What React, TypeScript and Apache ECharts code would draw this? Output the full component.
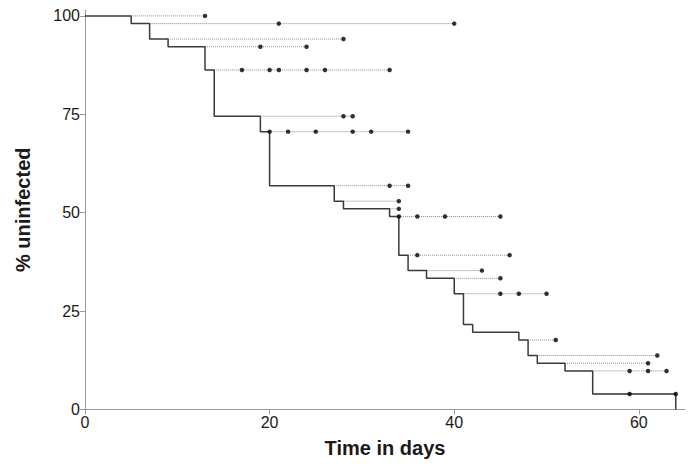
import React, { useEffect, useRef } from 'react';
import * as echarts from 'echarts';

// Kaplan–Meier step curve: day of each drop and % uninfected after it
const stepDays = [0, 5, 7, 9, 13, 14, 19, 20, 27, 28, 33, 34, 35, 37, 40, 41, 42, 47, 48, 49, 52, 55, 64];
const survival = [100, 98.04, 94.12, 92.16, 86.27, 74.51, 70.59, 56.86, 52.94, 50.98, 49.02, 39.22, 35.29, 33.33, 29.41, 21.57, 19.61, 17.65, 13.73, 11.76, 9.8, 3.92, 0];

// Censored observations: level, day the dotted guide starts, censoring days
const censorLevels = [100, 98.04, 94.12, 92.16, 86.27, 74.51, 70.59, 56.86, 52.94, 50.98, 49.02, 39.22, 35.29, 33.33, 29.41, 17.65, 13.73, 11.76, 9.8, 3.92];
const censorStart = [5, 7, 9, 13, 14, 19, 20, 27, 28, 33, 34, 35, 37, 40, 41, 48, 49, 52, 55, 55];
const censorDays = [
  [13],
  [21, 40],
  [28],
  [19, 24],
  [17, 20, 21, 24, 26, 33],
  [28, 29],
  [20, 22, 25, 29, 31, 35],
  [33, 35],
  [34],
  [34],
  [34, 36, 39, 45],
  [36, 46],
  [43],
  [45],
  [45, 47, 50],
  [51],
  [62],
  [61],
  [59, 61, 63],
  [59, 64],
];

const xTicks = [0, 20, 40, 60];
const yTicks = [0, 25, 50, 75, 100];

const FONT = '"Liberation Sans", Arial, sans-serif';
const AXIS_COLOR = '#9a9a9a';
const TEXT_COLOR = '#1a1a1a';

export default function App() {
  const ref = useRef<HTMLDivElement>(null);

  useEffect(() => {
    document.body.style.margin = '0';
    const chart = echarts.init(ref.current!, null, { renderer: 'svg' });

    const curve = stepDays.map((d, i) => [d, survival[i]]);

    const dottedSeries = censorLevels.map((lv, i) => ({
      type: 'line',
      data: [
        [censorStart[i], lv],
        [Math.max(...censorDays[i]), lv],
      ],
      symbol: 'none',
      silent: true,
      z: 1,
      lineStyle: { type: 'dotted', color: '#8a8a8a', width: 1 },
    }));

    const dots: number[][] = [];
    censorLevels.forEach((lv, i) => {
      censorDays[i].forEach((d) => dots.push([d, lv]));
    });

    chart.setOption({
      animation: false,
      backgroundColor: '#ffffff',
      textStyle: { fontFamily: FONT },
      grid: { left: 85, right: 14, top: 10, bottom: 56.5, containLabel: false },
      xAxis: {
        type: 'value',
        min: 0,
        max: 65,
        interval: 20,
        name: 'Time in days',
        nameLocation: 'middle',
        nameGap: 28,
        nameTextStyle: { fontFamily: FONT, fontSize: 20, fontWeight: 'bold', color: TEXT_COLOR },
        axisLine: { show: true, onZero: false, lineStyle: { color: AXIS_COLOR, width: 1 } },
        axisTick: { show: true, inside: false, length: 5, customValues: xTicks, lineStyle: { color: AXIS_COLOR } },
        axisLabel: { customValues: xTicks, margin: 5, fontSize: 16, fontFamily: FONT, color: TEXT_COLOR },
        splitLine: { show: false },
      },
      yAxis: {
        type: 'value',
        min: 0,
        max: 101.5,
        interval: 25,
        name: '% uninfected',
        nameLocation: 'middle',
        nameRotate: 90,
        nameGap: 52,
        nameTextStyle: { fontFamily: FONT, fontSize: 20, fontWeight: 'bold', color: TEXT_COLOR },
        axisLine: { show: true, onZero: false, lineStyle: { color: AXIS_COLOR, width: 1 } },
        axisTick: { show: true, inside: false, length: 5, customValues: yTicks, lineStyle: { color: AXIS_COLOR } },
        axisLabel: { customValues: yTicks, margin: 5, fontSize: 16, fontFamily: FONT, color: TEXT_COLOR },
        splitLine: { show: false },
      },
      series: [
        ...dottedSeries,
        {
          type: 'line',
          step: 'end',
          data: curve,
          symbol: 'none',
          z: 3,
          lineStyle: { color: '#3a3a3a', width: 1.5 },
        },
        {
          type: 'scatter',
          data: dots,
          symbol: 'circle',
          symbolSize: 4.5,
          z: 4,
          itemStyle: { color: '#000000' },
        },
      ],
    } as any);

    return () => chart.dispose();
  }, []);

  return <div ref={ref} style={{ width: 699, height: 466 }} />;
}
